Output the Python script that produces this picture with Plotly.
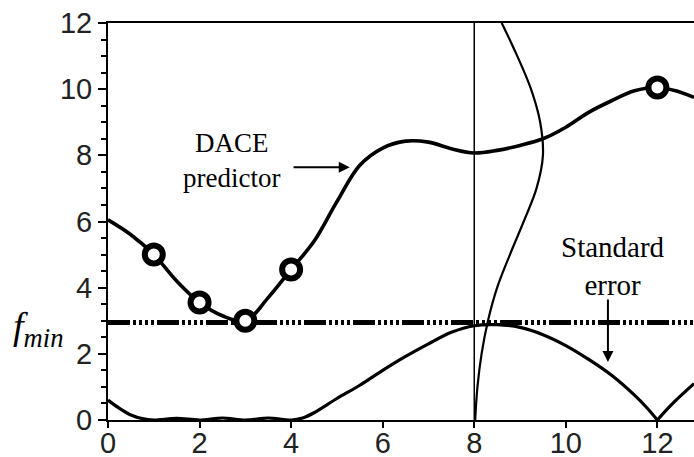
import plotly.graph_objects as go

# DACE predictor curve
pred_x = [0, 0.5, 1, 1.5, 2, 2.5, 3, 3.5, 4, 4.5, 5, 5.5, 6, 6.5, 7, 7.5, 8, 8.5, 9, 9.5, 10, 10.5, 11, 11.5, 12, 12.4, 12.8]
pred_y = [6.05, 5.6, 5.0, 4.2, 3.55, 3.15, 3.0, 3.7, 4.55, 5.4, 6.6, 7.7, 8.22, 8.43, 8.4, 8.2, 8.07, 8.15, 8.3, 8.5, 8.85, 9.3, 9.65, 9.95, 10.05, 9.95, 9.75]

# sample points
samp_x = [1, 2, 3, 4, 12]
samp_y = [5.0, 3.55, 3.0, 4.55, 10.05]

# standard error curve (left part up to x=12, right part after)
err_x_left = [0, 0.25, 0.5, 0.75, 1, 1.5, 2, 2.5, 3, 3.5, 4, 4.25, 4.5, 5, 5.5, 6, 6.5, 7, 7.5, 8, 8.5, 9, 9.5, 10, 10.5, 11, 11.5, 11.75, 12]
err_y_left = [0.6, 0.35, 0.15, 0.04, 0.0, 0.05, 0.0, 0.06, 0.0, 0.06, 0.0, 0.06, 0.22, 0.65, 1.05, 1.5, 1.92, 2.3, 2.65, 2.85, 2.88, 2.8, 2.58, 2.25, 1.83, 1.35, 0.75, 0.4, 0.0]
err_x_right = [12, 12.25, 12.5, 12.8]
err_y_right = [0.0, 0.38, 0.72, 1.1]

# sideways distribution at x = 8
dist_y = [0, 1, 2, 3, 4, 5, 6, 7, 8, 9, 10, 11, 12]
dist_x = [8.02, 8.07, 8.16, 8.3, 8.5, 8.78, 9.08, 9.36, 9.5, 9.44, 9.24, 8.94, 8.6]

# observed minimum
fmin = 2.95
x_min, x_max = 0, 12.8
x_ticks = [0, 2, 4, 6, 8, 10, 12]
y_ticks = [0, 2, 4, 6, 8, 10, 12]

fig = go.Figure()

fig.add_trace(go.Scatter(x=err_x_left, y=err_y_left, mode="lines",
                         line=dict(color="black", width=3.2, shape="spline", smoothing=0.9),
                         hoverinfo="skip"))
fig.add_trace(go.Scatter(x=err_x_right, y=err_y_right, mode="lines",
                         line=dict(color="black", width=3.2, shape="spline", smoothing=0.6),
                         hoverinfo="skip"))
fig.add_trace(go.Scatter(x=pred_x, y=pred_y, mode="lines",
                         line=dict(color="black", width=3.6, shape="spline", smoothing=1.0),
                         hoverinfo="skip"))
fig.add_trace(go.Scatter(x=dist_x, y=dist_y, mode="lines",
                         line=dict(color="black", width=2.2, shape="spline", smoothing=1.0),
                         hoverinfo="skip"))
fig.add_trace(go.Scatter(x=[8, 8], y=[0, 12], mode="lines",
                         line=dict(color="black", width=1.5), hoverinfo="skip"))
fig.add_trace(go.Scatter(x=[x_min, x_max], y=[fmin, fmin], mode="lines",
                         line=dict(color="black", width=5,
                                   dash="22px,3px,3px,3px,3px,3px,3px,3px,3px,3px"),
                         hoverinfo="skip"))
fig.add_trace(go.Scatter(x=samp_x, y=samp_y, mode="markers",
                         marker=dict(symbol="circle", size=18, color="white",
                                     line=dict(color="black", width=6)),
                         cliponaxis=False, hoverinfo="skip"))

serif = "Liberation Serif, Times New Roman, serif"

fig.add_annotation(x=2.7, y=7.85, xref="x", yref="y", text="DACE<br>predictor",
                   showarrow=False, font=dict(family=serif, size=27, color="black"),
                   align="center")
fig.add_annotation(x=5.28, y=7.64, ax=4.02, ay=7.64, xref="x", yref="y", axref="x", ayref="y",
                   text="", showarrow=True, arrowhead=2, arrowsize=1.1, arrowwidth=2,
                   arrowcolor="black")
fig.add_annotation(x=11.03, y=4.65, xref="x", yref="y", text="Standard<br>error",
                   showarrow=False, font=dict(family=serif, size=29, color="black"),
                   align="center")
fig.add_annotation(x=10.92, y=1.75, ax=10.92, ay=3.69, xref="x", yref="y", axref="x", ayref="y",
                   text="", showarrow=True, arrowhead=2, arrowsize=1.1, arrowwidth=2,
                   arrowcolor="black")
fig.add_annotation(x=-0.165, y=2.75, xref="paper", yref="y",
                   text="<i>f</i><sub><i>min</i></sub>", showarrow=False,
                   xanchor="left", yanchor="middle",
                   font=dict(family=serif, size=38, color="black"))

tickfont = dict(family="Liberation Sans, Arial, sans-serif", size=29, color="#222")

fig.update_layout(
    width=694, height=457,
    margin=dict(l=108, r=0, t=23, b=37, autoexpand=False),
    paper_bgcolor="white", plot_bgcolor="white",
    showlegend=False,
    xaxis=dict(range=[x_min, x_max], tickvals=x_ticks, ticks="outside", ticklen=6,
               tickwidth=2, tickcolor="black", showline=True, linecolor="black",
               linewidth=2, mirror=True, showgrid=False, zeroline=False,
               tickfont=tickfont, automargin=False, ticklabelstandoff=-10),
    yaxis=dict(range=[0, 12], tickvals=y_ticks, ticks="outside", ticklen=8,
               tickwidth=2, tickcolor="black", showline=True, linecolor="black",
               linewidth=2, showgrid=False, zeroline=False, tickfont=tickfont,
               automargin=False,
               minor=dict(dtick=0.5, ticks="outside", ticklen=5, tickwidth=2,
                          tickcolor="black", showgrid=False)),
)

fig.write_html("out.html")
